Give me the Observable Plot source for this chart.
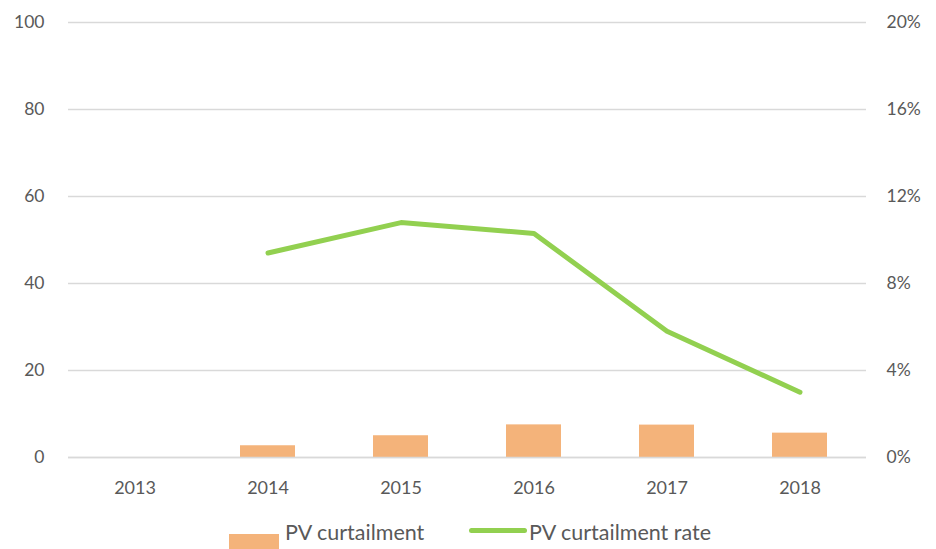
<!DOCTYPE html>
<html><head><meta charset="utf-8">
<script src="https://cdn.jsdelivr.net/npm/d3@7"></script>
<script src="https://cdn.jsdelivr.net/npm/@observablehq/plot@0.6"></script>
<style>
body{margin:0;background:#fff;font-family:Lato,"Open Sans",sans-serif;}
#legend{height:39px;font-size:21.5px;color:#595959;position:relative;}
.sw{display:inline-block}
</style></head>
<body><div id="chart"></div>
<div id="legend">
<span class="sw" style="position:absolute;left:229px;top:24px;width:50px;height:16px;background:#F4B37A"></span>
<span style="position:absolute;left:285px;top:9px">PV curtailment</span>
<span class="sw" style="position:absolute;left:469px;top:18px;width:58px;height:5px;border-radius:3px;background:#92D050"></span>
<span style="position:absolute;left:529px;top:9px">PV curtailment rate</span>
</div>
<script>
const years = ["2013","2014","2015","2016","2017","2018"];
const curtailment = [null, 2.7, 5.0, 7.5, 7.45, 5.6]; // TWh
const rate = [null, 9.4, 10.8, 10.3, 5.8, 3.0]; // %
const leftTicks = [0,20,40,60,80,100];

const bars = years.map((y,i)=>({year:y, v:curtailment[i]})).filter(d=>d.v!=null);
const line = years.map((y,i)=>({year:y, r:rate[i]})).filter(d=>d.r!=null);
const k = 100/20;

const chart = Plot.plot({
  width:936, height:510,
  marginLeft:68, marginRight:70, marginTop:22, marginBottom:53,
  style:{fontFamily:"Lato, 'Open Sans', sans-serif", fontSize:"17px", color:"#595959", background:"#fff"},
  x:{domain:years, paddingInner:0.59, paddingOuter:0.295, label:null},
  y:{domain:[0,100], label:null},
  marks:[
    Plot.gridY(leftTicks,{stroke:"#d9d9d9", strokeOpacity:1, strokeWidth:1.3}),
    Plot.axisY({ticks:leftTicks, tickSize:0, tickPadding:24, label:null, fontSize:17.5}),
    Plot.axisY({anchor:"right", ticks:leftTicks, tickSize:0, tickPadding:20, label:null, tickFormat:d=>(d/k)+"%", fontSize:17.5}),
    Plot.axisX({tickSize:0, tickPadding:24, label:null, fontSize:18}),
    Plot.barY(bars,{x:"year", y:"v", fill:"#F4B37A"}),
    Plot.ruleY([0],{stroke:"#d9d9d9", strokeWidth:1.5}),
    Plot.line(line,{x:"year", y:d=>d.r*k, stroke:"#92D050", strokeWidth:5, strokeLinecap:"round", strokeLinejoin:"round"})
  ]
});
document.getElementById("chart").appendChild(chart);
</script></body></html>
